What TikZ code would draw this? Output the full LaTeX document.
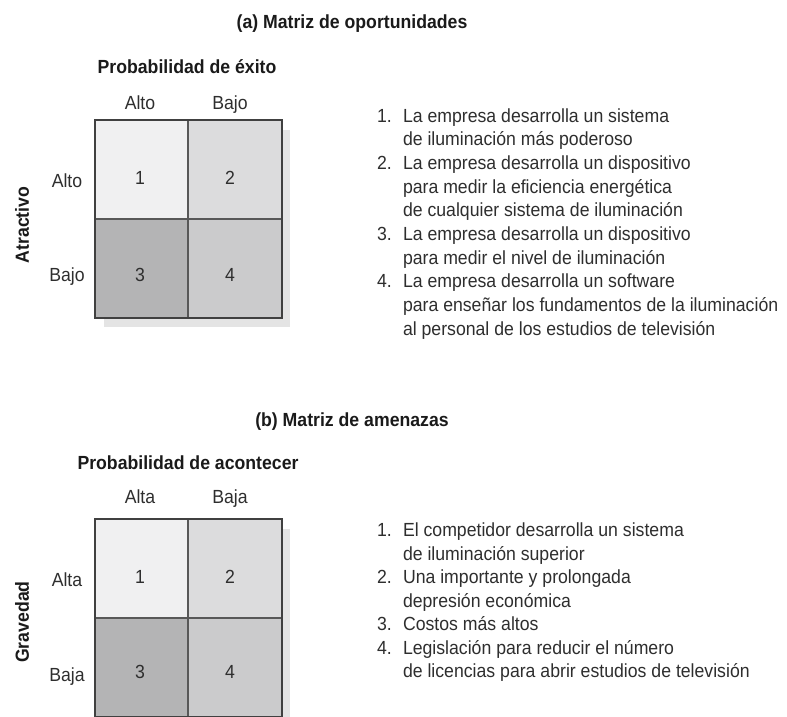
\documentclass[tikz,border=0pt]{standalone}
\usepackage{fontspec}
\setmainfont{Liberation Sans}[FakeStretch=0.93]
\definecolor{cA}{HTML}{F0F0F1}
\definecolor{cB}{HTML}{DCDCDD}
\definecolor{cC}{HTML}{B4B4B5}
\definecolor{cD}{HTML}{CBCBCC}
\definecolor{framec}{HTML}{404040}
\definecolor{innerc}{HTML}{585858}
\definecolor{shadowc}{HTML}{E4E4E4}
\definecolor{txtc}{HTML}{2E2E2E}
\definecolor{ttlc}{HTML}{1A1A1A}
\begin{document}
\begin{tikzpicture}[x=1pt,y=-1pt,
  every node/.style={inner sep=0pt, outer sep=0pt, font=\fontsize{19}{23}\selectfont, text=txtc},
  ttl/.style={font=\fontsize{19}{23}\selectfont\bfseries, text=ttlc, anchor=base},
  axis/.style={font=\fontsize{19}{23}\selectfont\bfseries, text=ttlc, rotate=90, anchor=center},
  lbl/.style={anchor=base},
  item/.style={anchor=base west},
  cell/.style={draw=innerc, line width=1.4pt, minimum width=93.5pt, minimum height=99pt},
  frame/.style={draw=framec, line width=2pt}]
\useasboundingbox (0,0) rectangle (787,717);

% ---------------- (a) ----------------
\node[ttl] (ta) at (352,28.6) {(a) Matriz de oportunidades};
\node[ttl] (pa) at (187,73.5) {Probabilidad de éxito};
\node[lbl] (ca1) at (140,109.5) {Alto};
\node[lbl] (ca2) at (230,109.5) {Bajo};
\node[lbl] (ra1) at (67,187.5) {Alto};
\node[lbl] (ra2) at (67,281.5) {Bajo};
\node[axis] (xa) at (22,225) {Atractivo};

\fill[shadowc] (104,130) rectangle (290,327);
\node[cell, fill=cA] (a11) at (141.25,169.5) {};
\node[cell, fill=cB] (a12) at (234.75,169.5) {};
\node[cell, fill=cC] (a21) at (141.25,268.5) {};
\node[cell, fill=cD] (a22) at (234.75,268.5) {};
\draw[frame] (a11.north west) rectangle (a22.south east);
\node[lbl] (na1) at (140,184.5) {1};
\node[lbl] (na2) at (230,184.5) {2};
\node[lbl] (na3) at (140,281.5) {3};
\node[lbl] (na4) at (230,281.5) {4};

\node[item] (ia1) at (377,122) {1.};
\node[item] (la1) at (403,122) {La empresa desarrolla un sistema};
\node[item] (la2) at (403,145.7) {de iluminación más poderoso};
\node[item] (ia2) at (377,169.4) {2.};
\node[item] (la3) at (403,169.4) {La empresa desarrolla un dispositivo};
\node[item] (la4) at (403,193.1) {para medir la eficiencia energética};
\node[item] (la5) at (403,216.8) {de cualquier sistema de iluminación};
\node[item] (ia3) at (377,240.5) {3.};
\node[item] (la6) at (403,240.5) {La empresa desarrolla un dispositivo};
\node[item] (la7) at (403,264.2) {para medir el nivel de iluminación};
\node[item] (ia4) at (377,287.9) {4.};
\node[item] (la8) at (403,287.9) {La empresa desarrolla un software};
\node[item] (la9) at (403,311.6) {para enseñar los fundamentos de la iluminación};
\node[item] (la10) at (403,335.3) {al personal de los estudios de televisión};

% ---------------- (b) ----------------
\node[ttl] (tb) at (352,426.5) {(b) Matriz de amenazas};
\node[ttl] (pb) at (188,469.5) {Probabilidad de acontecer};
\node[lbl] (cb1) at (140,503.5) {Alta};
\node[lbl] (cb2) at (230,503.5) {Baja};
\node[lbl] (rb1) at (67,586.5) {Alta};
\node[lbl] (rb2) at (67,681.5) {Baja};
\node[axis] (xb) at (22,622) {Gravedad};

\fill[shadowc] (104,529) rectangle (290,726);
\node[cell, fill=cA] (b11) at (141.25,568.5) {};
\node[cell, fill=cB] (b12) at (234.75,568.5) {};
\node[cell, fill=cC] (b21) at (141.25,667.5) {};
\node[cell, fill=cD] (b22) at (234.75,667.5) {};
\draw[frame] (b11.north west) rectangle (b22.south east);
\node[lbl] (nb1) at (140,583.5) {1};
\node[lbl] (nb2) at (230,583.5) {2};
\node[lbl] (nb3) at (140,678.5) {3};
\node[lbl] (nb4) at (230,678.5) {4};

\node[item] (ib1) at (377,536.5) {1.};
\node[item] (lb1) at (403,536.5) {El competidor desarrolla un sistema};
\node[item] (lb2) at (403,560) {de iluminación superior};
\node[item] (ib2) at (377,583.5) {2.};
\node[item] (lb3) at (403,583.5) {Una importante y prolongada};
\node[item] (lb4) at (403,607) {depresión económica};
\node[item] (ib3) at (377,630.5) {3.};
\node[item] (lb5) at (403,630.5) {Costos más altos};
\node[item] (ib4) at (377,654) {4.};
\node[item] (lb6) at (403,654) {Legislación para reducir el número};
\node[item] (lb7) at (403,677.5) {de licencias para abrir estudios de televisión};
\end{tikzpicture}
\end{document}
